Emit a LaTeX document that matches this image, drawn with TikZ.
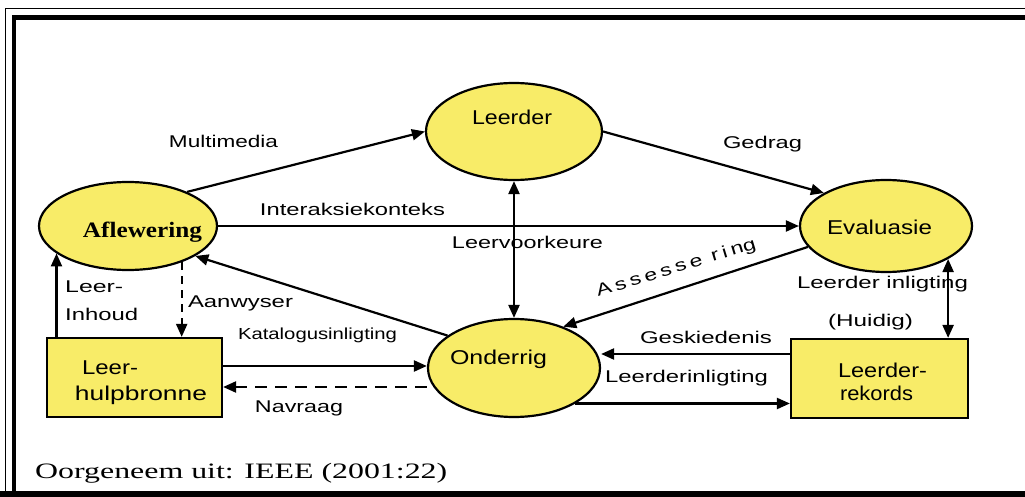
\documentclass[tikz,border=0pt]{standalone}
\usepackage{fontspec}
\usepackage{graphicx}
\usetikzlibrary{shapes.geometric,arrows.meta}
\newfontfamily\sansf{Liberation Sans}
\newfontfamily\seriff{Liberation Serif}
\definecolor{yel}{RGB}{248,236,104}
% set a text to a given width (in pt) while keeping its height
\newcommand\fitw[2]{\resizebox{#1pt}{\height}{#2}}
\begin{document}
\begin{tikzpicture}[x=1pt,y=-1pt,
  ell/.style={ellipse,draw,fill=yel,line width=2.2pt,inner sep=0pt},
  recbox/.style={rectangle,draw,fill=yel,line width=2.2pt,inner sep=0pt},
  con/.style={line width=2.2pt,-{Triangle[length=13pt,width=11pt]}},
  con2/.style={line width=2.2pt,{Triangle[length=13pt,width=11pt]}-{Triangle[length=13pt,width=11pt]}},
  dsh/.style={dash pattern=on 12pt off 8pt},
  lbl/.style={inner sep=0pt,anchor=base,font=\sansf\fontsize{17}{20}\selectfont},
  big/.style={inner sep=0pt,anchor=base,font=\sansf\fontsize{20}{24}\selectfont}]
\useasboundingbox (0,0) rectangle (1025,497);
\fill[white] (0,0) rectangle (1025,497);

% frame
\draw[line width=1pt] (5,497) -- (5,9) -- (1025,9);
\draw[line width=4.5pt] (14,491) -- (14,17.5) -- (1025,17.5);
\draw[line width=6pt] (0,494) -- (1025,494);

% nodes
\node[ell,minimum width=176pt,minimum height=97pt] (leerder) at (514,131.5) {};
\node[ell,minimum width=172pt,minimum height=92pt] (evaluasie) at (886,226) {};
\node[ell,minimum width=172pt,minimum height=98pt] (onderrig) at (514,368) {};
\node[ell,minimum width=178pt,minimum height=88pt] (aflewering) at (128,226) {};
\node[recbox,minimum width=175pt,minimum height=79pt] (lhb) at (134.5,377.5) {};
\node[recbox,minimum width=177pt,minimum height=79pt] (lrk) at (879.5,378.5) {};

% node texts
\node[big] (tleerder) at (512,125) {\fitw{80}{Leerder}};
\node[big] (tevaluasie) at (879.5,234) {\fitw{105}{Evaluasie}};
\node[big] (tonderrig) at (498.5,364) {\fitw{97}{Onderrig}};
\node[inner sep=0pt,anchor=base,font=\seriff\bfseries\fontsize{22}{26}\selectfont] (taflewering) at (142.5,237) {\fitw{119}{Aflewering}};
\node[big] (tlhb1) at (110,374) {\fitw{56}{Leer-}};
\node[big] (tlhb2) at (141,400) {\fitw{132}{hulpbronne}};
\node[big] (tlrk1) at (882.5,377) {\fitw{89}{Leerder-}};
\node[big] (tlrk2) at (876.5,400) {\fitw{73}{rekords}};

% connectors
\draw[con] (aflewering.30) -- (leerder.west);
\draw[con] (leerder.east) -- (evaluasie.152);
\draw[con] (aflewering.east) -- (evaluasie.west);
\draw[con2] (leerder.south) -- (onderrig.north);
\draw[con] (evaluasie.195) -- (onderrig.40);
\draw[con] (onderrig.154) -- (aflewering.336);
\coordinate (k1) at ([yshift=11.5pt]lhb.east);
\draw[con] (k1) -- (k1 -| onderrig.west);
\coordinate (n1) at ([yshift=-9.5pt]lhb.east);
\draw[con,dsh] (n1 -| onderrig.west) -- (n1);
\draw[con,dash pattern=on 8pt off 6pt] (aflewering.326) -- (aflewering.326 |- lhb.north);
\draw[con] (aflewering.201 |- lhb.north) -- (aflewering.201);
\coordinate (g1) at ([yshift=24.5pt]lrk.west);
\draw[con] (g1) -- (g1 -| onderrig.east);
\draw[con] (onderrig.330) -- (onderrig.330 -| lrk.west);
\draw[con2] (evaluasie.332) -- (evaluasie.332 |- lrk.north);

% connector labels
\node[lbl] (lmulti) at (223.5,148) {\fitw{109}{Multimedia}};
\node[lbl] (lgedrag) at (762.5,149) {\fitw{79}{Gedrag}};
\node[lbl] (linter) at (352.5,215) {\fitw{185}{Interaksiekonteks}};
\node[lbl] (lvoork) at (527.5,248) {\fitw{151}{Leervoorkeure}};
\node[lbl,anchor=base west,rotate=17] (lassess) at (598,297)
  {\fitw{166}{A\,s\,s\,e\,s\,s\,e\hspace{7pt}r\,i\,ng}};
\node[lbl,anchor=base west] (linh1) at (65,292) {\fitw{58}{Leer-}};
\node[lbl,anchor=base west] (linh2) at (65,320) {\fitw{73}{Inhoud}};
\node[lbl] (laanw) at (240.5,307) {\fitw{105}{Aanwyser}};
\node[lbl,font=\sansf\fontsize{16}{19}\selectfont] (lkat) at (317.5,339) {\fitw{159}{Katalogusinligting}};
\node[lbl] (lnavr) at (299,412) {\fitw{88}{Navraag}};
\node[lbl] (lgesk) at (706,343) {\fitw{132}{Geskiedenis}};
\node[lbl] (lleerinl) at (686.5,382) {\fitw{163}{Leerderinligting}};
\node[lbl] (lleerinl2) at (882.5,288) {\fitw{171}{Leerder inligting}};
\node[lbl] (lhuidig) at (870.5,326) {\fitw{85}{(Huidig)}};

% source note
\node[inner sep=0pt,anchor=base west,font=\seriff\fontsize{22}{26}\selectfont] (bron) at (35,478) {\fitw{412}{Oorgeneem uit: IEEE (2001:22)}};
\end{tikzpicture}
\end{document}
